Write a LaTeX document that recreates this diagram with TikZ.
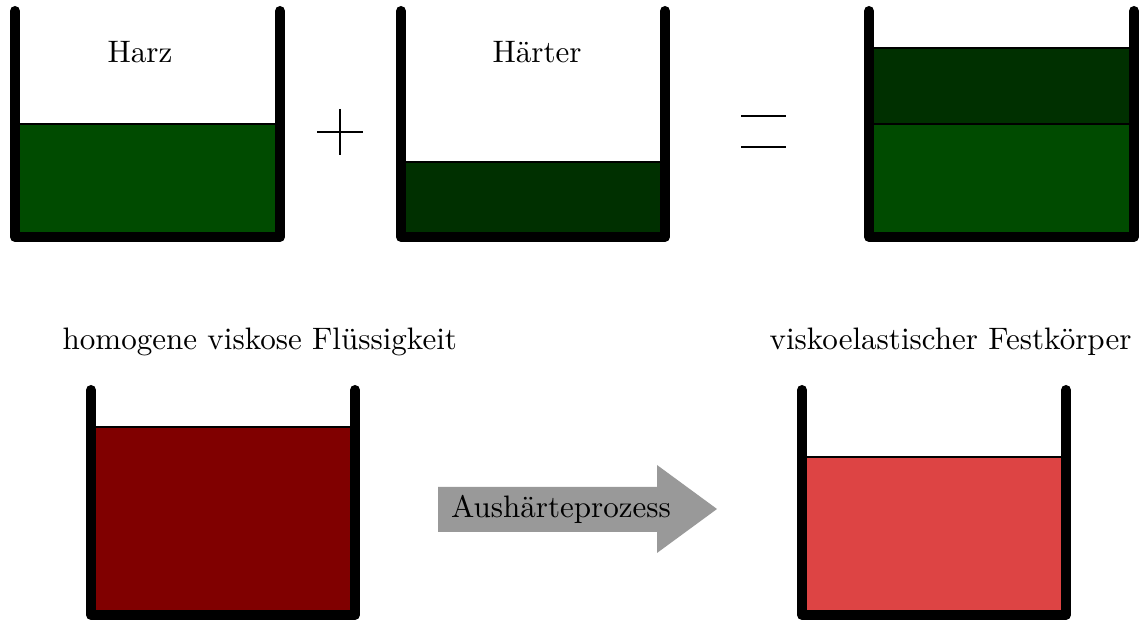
\documentclass[tikz,border=0pt]{standalone}
\usepackage{fontspec}
\definecolor{harz}{RGB}{0,75,0}
\definecolor{haerter}{RGB}{0,48,0}
\definecolor{fluid}{RGB}{128,0,0}
\definecolor{solidred}{RGB}{221,68,68}
\definecolor{arrowgray}{RGB}{153,153,153}
\begin{document}
\begin{tikzpicture}[x=0.3333pt,y=-0.3333pt,
  every node/.style={font=\fontsize{10.35pt}{12pt}\selectfont},
  wall/.style={line width=3.333pt,line cap=round,line join=round},
  liquid/.style={draw=black,line width=0.4pt},
  lbl/.style={anchor=base west,inner sep=0pt},
  opline/.style={line width=0.5pt}]
\useasboundingbox (0,0) rectangle (1139,621);
% container 1: Harz
\filldraw[liquid,fill=harz] (15,124) rectangle (280,237);
\draw[wall] (15,11) -- (15,237) -- (280,237) -- (280,11);
\node[lbl] (harz) at (107,63) {Harz};
% plus
\draw[opline] (317,132) -- (363,132);
\draw[opline] (340,109) -- (340,155);
% container 2: Haerter
\filldraw[liquid,fill=haerter] (401,162) rectangle (665,237);
\draw[wall] (401,11) -- (401,237) -- (665,237) -- (665,11);
\node[lbl] (haerter) at (492,63) {Härter};
% equals
\draw[line width=0.65pt] (741,116) -- (786,116);
\draw[line width=0.65pt] (741,147) -- (786,147);
% container 3: mixture
\filldraw[liquid,fill=haerter] (869,48) rectangle (1134,124);
\filldraw[liquid,fill=harz] (869,124) rectangle (1134,237);
\draw[wall] (869,11) -- (869,237) -- (1134,237) -- (1134,11);
% bottom left
\node[lbl] (fluidlabel) at (62,350) {homogene viskose Flüssigkeit};
\filldraw[liquid,fill=fluid] (91,427) rectangle (355,615);
\draw[wall] (91,390) -- (91,615) -- (355,615) -- (355,390);
% process arrow
\fill[arrowgray] (438,487) -- (657,487) -- (657,465) -- (717,509) -- (657,553) -- (657,532) -- (438,532) -- cycle;
\node[anchor=base,inner sep=0pt] (proc) at (561,518) {Aushärteprozess};
% bottom right
\node[lbl] (solidlabel) at (769,350) {viskoelastischer Festkörper};
\filldraw[liquid,fill=solidred] (802,457) rectangle (1066,615);
\draw[wall] (802,390) -- (802,615) -- (1066,615) -- (1066,390);
\end{tikzpicture}
\end{document}
